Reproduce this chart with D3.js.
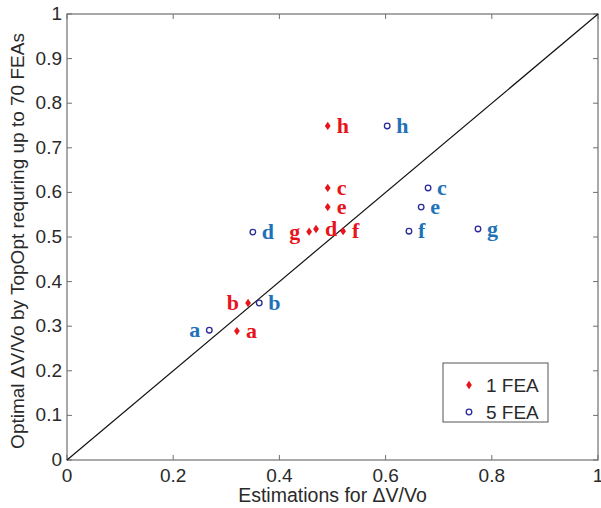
<!DOCTYPE html>
<html><head><meta charset="utf-8">
<script src="https://cdn.jsdelivr.net/npm/d3@7"></script>
<style>body{margin:0;background:#fff}</style></head>
<body><svg id="c" width="601" height="508"></svg>
<script>
const labels = ["a","b","c","d","e","f","g","h"];
const fea1X = [0.320,0.341,0.491,0.469,0.491,0.520,0.456,0.491];
const fea1Y = [0.289,0.352,0.610,0.518,0.567,0.513,0.512,0.749];
const fea5X = [0.268,0.362,0.680,0.350,0.667,0.644,0.774,0.603];
const fea5Y = [0.291,0.352,0.610,0.511,0.567,0.513,0.518,0.749];
const fea1Side = ["r","l","r","r","r","r","l","r"];
const fea5Side = ["l","r","r","r","r","r","r","r"];
const ticks = [0,0.1,0.2,0.3,0.4,0.5,0.6,0.7,0.8,0.9,1];
const xTicks = [0,0.2,0.4,0.6,0.8,1];

const svg = d3.select("#c");
const L=67,R=598,T=14,B=460;
const x = d3.scaleLinear().domain([0,1]).range([L,R]);
const y = d3.scaleLinear().domain([0,1]).range([B,T]);
const font = "'Liberation Sans', Arial, sans-serif";
const axCol = "#707070";
const txtCol = "#2a2a2a";

svg.append("rect").attr("x",L).attr("y",T).attr("width",R-L).attr("height",B-T)
  .attr("fill","none").attr("stroke",axCol).attr("stroke-width",1.2);

xTicks.forEach(t=>{
  svg.append("line").attr("x1",x(t)).attr("x2",x(t)).attr("y1",B).attr("y2",B-5).attr("stroke",axCol);
  svg.append("line").attr("x1",x(t)).attr("x2",x(t)).attr("y1",T).attr("y2",T+5).attr("stroke",axCol);
  svg.append("text").attr("x",x(t)).attr("y",B+22).attr("text-anchor","middle")
    .attr("font-family",font).attr("font-size",19).attr("fill",txtCol).text(d3.format("~g")(t));
});
ticks.forEach(t=>{
  svg.append("line").attr("x1",L).attr("x2",L+5).attr("y1",y(t)).attr("y2",y(t)).attr("stroke",axCol);
  svg.append("line").attr("x1",R).attr("x2",R-5).attr("y1",y(t)).attr("y2",y(t)).attr("stroke",axCol);
  svg.append("text").attr("x",L-5).attr("y",y(t)+6).attr("text-anchor","end")
    .attr("font-family",font).attr("font-size",19).attr("fill",txtCol).text(d3.format("~g")(t));
});

svg.append("text").attr("x",(L+R)/2).attr("y",502).attr("text-anchor","middle")
  .attr("font-family",font).attr("font-size",19.5).attr("fill",txtCol).text("Estimations for \u0394V/Vo");
svg.append("text").attr("transform",`translate(24,${(T+B)/2+4}) rotate(-90)`).attr("text-anchor","middle")
  .attr("font-family",font).attr("font-size",19).attr("fill",txtCol).text("Optimal \u0394V/Vo by TopOpt requring up to 70 FEAs");

svg.append("line").attr("x1",x(0)).attr("y1",y(0)).attr("x2",x(1)).attr("y2",y(1))
  .attr("stroke","#111").attr("stroke-width",1.2);

const red="#e8141c", blueTxt="#1f72b8", blueMk="#2a2a9a";
const serif="'Liberation Serif','Times New Roman',serif";
const star = d3.symbol().type(d3.symbolDiamond).size(20);

labels.forEach((lb,i)=>{
  svg.append("path").attr("d",star).attr("transform",`translate(${x(fea1X[i])},${y(fea1Y[i])}) scale(1.2,1)`).attr("fill",red);
  const s1 = fea1Side[i]==="r";
  svg.append("text").attr("x",x(fea1X[i])+(s1?9:-9)).attr("y",y(fea1Y[i])+7)
    .attr("text-anchor",s1?"start":"end").attr("font-family",serif).attr("font-weight","bold")
    .attr("font-size",22).attr("fill",red).text(lb);
  svg.append("circle").attr("cx",x(fea5X[i])).attr("cy",y(fea5Y[i])).attr("r",2.8)
    .attr("fill","none").attr("stroke",blueMk).attr("stroke-width",1.3);
  const s5 = fea5Side[i]==="r";
  svg.append("text").attr("x",x(fea5X[i])+(s5?9:-9)).attr("y",y(fea5Y[i])+7)
    .attr("text-anchor",s5?"start":"end").attr("font-family",serif).attr("font-weight","bold")
    .attr("font-size",22).attr("fill",blueTxt).text(lb);
});

const lg = svg.append("g");
lg.append("rect").attr("x",443).attr("y",363).attr("width",105).attr("height",59)
  .attr("fill","#fff").attr("stroke","#555").attr("stroke-width",1);
lg.append("path").attr("d",star).attr("transform","translate(469,385) scale(1.2,1)").attr("fill",red);
lg.append("circle").attr("cx",469).attr("cy",412).attr("r",2.8).attr("fill","none").attr("stroke",blueMk).attr("stroke-width",1.3);
lg.append("text").attr("x",486).attr("y",392).attr("font-family",font).attr("font-size",19).attr("fill",txtCol).text("1 FEA");
lg.append("text").attr("x",486).attr("y",419).attr("font-family",font).attr("font-size",19).attr("fill",txtCol).text("5 FEA");
</script></body></html>
